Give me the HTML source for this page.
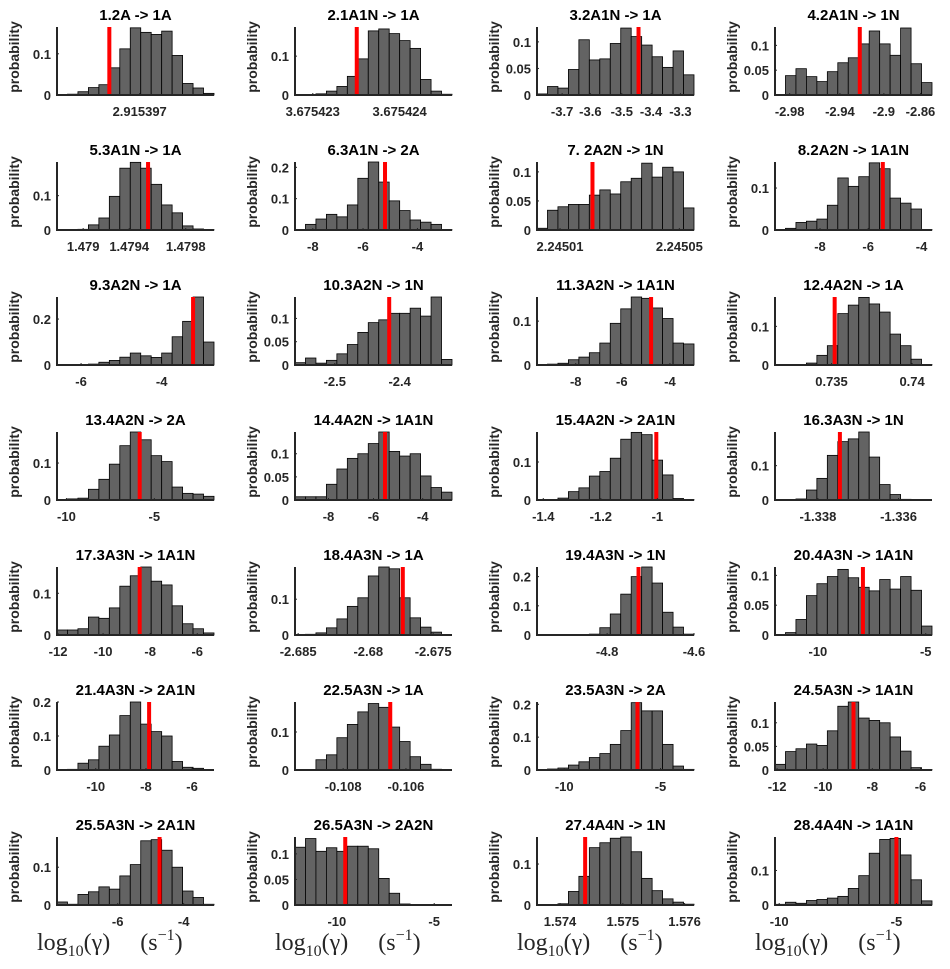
<!DOCTYPE html>
<html><head><meta charset="utf-8"><style>
body{margin:0;background:#fff;}
svg{display:block;font-family:"Liberation Sans",Arial,sans-serif;}
.tt{font-weight:bold;font-size:15px;fill:#000;text-anchor:middle;}
.tk{font-weight:bold;font-size:13px;fill:#262626;}
.yl{font-weight:bold;font-size:14px;fill:#262626;text-anchor:middle;}
.xl{font-family:"Liberation Serif",serif;font-size:24px;fill:#262626;}
</style></head><body>
<svg id="fig" width="950" height="969" viewBox="0 0 950 969"></svg>
<script>
const titles=["1.2A -> 1A","2.1A1N -> 1A","3.2A1N -> 1A","4.2A1N -> 1N","5.3A1N -> 1A","6.3A1N -> 2A","7. 2A2N -> 1N","8.2A2N -> 1A1N","9.3A2N -> 1A","10.3A2N -> 1N","11.3A2N -> 1A1N","12.4A2N -> 1A","13.4A2N -> 2A","14.4A2N -> 1A1N","15.4A2N -> 2A1N","16.3A3N -> 1N","17.3A3N -> 1A1N","18.4A3N -> 1A","19.4A3N -> 1N","20.4A3N -> 1A1N","21.4A3N -> 2A1N","22.5A3N -> 1A","23.5A3N -> 2A","24.5A3N -> 1A1N","25.5A3N -> 2A1N","26.5A3N -> 2A2N","27.4A4N -> 1N","28.4A4N -> 1A1N"];
const binValues=[
[0,0.002,0.008,0.018,0.025,0.066,0.112,0.163,0.152,0.147,0.155,0.096,0.028,0.017,0.004],
[0,0.001,0.003,0.01,0.022,0.048,0.093,0.165,0.17,0.158,0.14,0.12,0.04,0.01,0.002],
[0.002,0.016,0.013,0.048,0.104,0.066,0.068,0.097,0.126,0.11,0.094,0.072,0.052,0.083,0.038],
[0,0.039,0.053,0.037,0.027,0.047,0.065,0.075,0.103,0.129,0.103,0.08,0.135,0.063,0.025],
[0.001,0.001,0.002,0.015,0.035,0.098,0.18,0.197,0.18,0.133,0.073,0.05,0.012,0.003,0.001],
[0,0.018,0.035,0.05,0.042,0.08,0.165,0.217,0.153,0.093,0.062,0.032,0.025,0.018,0.001],
[0.003,0.034,0.04,0.044,0.044,0.06,0.069,0.062,0.083,0.089,0.115,0.091,0.108,0.1,0.038],
[0,0.004,0.018,0.021,0.026,0.059,0.124,0.104,0.127,0.16,0.146,0.076,0.064,0.05,0.001],
[0,0.001,0.002,0.004,0.012,0.02,0.034,0.052,0.04,0.033,0.052,0.123,0.19,0.296,0.1],
[0.005,0.015,0.004,0.01,0.024,0.044,0.07,0.091,0.097,0.111,0.111,0.122,0.105,0.146,0.012],
[0,0.002,0.004,0.012,0.018,0.028,0.05,0.095,0.128,0.155,0.152,0.13,0.106,0.05,0.048],
[0,0,0,0.005,0.025,0.05,0.133,0.155,0.175,0.158,0.137,0.08,0.05,0.015,0.001],
[0.001,0.003,0.005,0.029,0.056,0.097,0.147,0.184,0.163,0.12,0.104,0.035,0.018,0.016,0.01],
[0.007,0.007,0.007,0.034,0.067,0.09,0.1,0.122,0.147,0.105,0.095,0.1,0.052,0.027,0.017],
[0.001,0.001,0.005,0.022,0.032,0.063,0.075,0.11,0.16,0.178,0.172,0.105,0.066,0.004,0.001],
[0,0.001,0.003,0.029,0.063,0.13,0.17,0.178,0.198,0.125,0.045,0.016,0.002,0,0],
[0.012,0.012,0.015,0.043,0.04,0.065,0.117,0.142,0.163,0.129,0.12,0.07,0.027,0.015,0.005],
[0.001,0.002,0.006,0.02,0.045,0.08,0.104,0.165,0.19,0.185,0.104,0.048,0.022,0.008,0],
[0.001,0.001,0.001,0.001,0.001,0.003,0.025,0.072,0.14,0.2,0.233,0.178,0.078,0.027,0.003],
[0,0.004,0.026,0.066,0.086,0.098,0.11,0.096,0.08,0.074,0.093,0.077,0.098,0.075,0.015],
[0,0.002,0.02,0.03,0.07,0.103,0.16,0.2,0.135,0.113,0.1,0.025,0.008,0.005,0],
[0,0.001,0.027,0.04,0.085,0.12,0.153,0.175,0.165,0.113,0.075,0.035,0.015,0.002,0],
[0.001,0.003,0.006,0.015,0.025,0.038,0.05,0.078,0.12,0.205,0.18,0.18,0.078,0.012,0.002],
[0.012,0.039,0.045,0.055,0.052,0.083,0.135,0.144,0.11,0.105,0.1,0.07,0.04,0.005,0.001],
[0.008,0.002,0.028,0.035,0.048,0.042,0.077,0.107,0.17,0.173,0.145,0.1,0.037,0.02,0.002],
[0.113,0.13,0.105,0.112,0.105,0.115,0.115,0.11,0.052,0.023,0.002,0.001,0,0.001,0],
[0,0.001,0.003,0.033,0.07,0.14,0.152,0.163,0.166,0.13,0.065,0.035,0.015,0.007,0.002],
[0.002,0.008,0.005,0.013,0.016,0.02,0.025,0.048,0.085,0.15,0.19,0.193,0.145,0.073,0.012]];
const yMax=[0.165,0.175,0.128,0.137,0.198,0.217,0.117,0.162,0.296,0.146,0.155,0.176,0.184,0.147,0.179,0.198,0.163,0.19,0.233,0.114,0.2,0.179,0.207,0.144,0.18,0.133,0.166,0.197];
const yTicks=[[0,0.1],[0,0.1],[0,0.05,0.1],[0,0.05,0.1],[0,0.1],[0,0.1,0.2],[0,0.05,0.1],[0,0.1],[0,0.2],[0,0.05,0.1],[0,0.1],[0,0.1],[0,0.1],[0,0.05,0.1],[0,0.1],[0,0.1],[0,0.1],[0,0.1],[0,0.1,0.2],[0,0.05,0.1],[0,0.1,0.2],[0,0.1],[0,0.1,0.2],[0,0.05,0.1],[0,0.1],[0,0.05,0.1],[0,0.1],[0,0.1]];
const xTickPos=[[7.9],[1.7,10.0],[2.4,5.1,8.1,10.9,13.7],[1.4,6.2,10.4,13.9],[2.5,6.9,12.3],[1.7,6.5,11.7],[2.2,13.6],[4.3,8.9,14.0],[2.3,10.0],[3.8,10.0],[3.7,8.1,12.7],[5.4,13.1],[0.9,9.3],[3.2,7.5,12.2],[0.6,6.1,11.5],[4.1,11.8],[0.1,4.4,8.9,13.4],[0.3,7.0,13.2],[6.7,15],[4.1,14.4],[3.7,8.5,12.9],[4.6,10.6],[2.6,11.8],[0.2,4.6,9.3,13.9],[5.8,12.1],[4.0,13.3],[2.2,8.2,14.1],[0.4,11.6]];
const xTickLabels=[["2.915397"],["3.675423","3.675424"],["-3.7","-3.6","-3.5","-3.4","-3.3"],["-2.98","-2.94","-2.9","-2.86"],["1.479","1.4794","1.4798"],["-8","-6","-4"],["2.24501","2.24505"],["-8","-6","-4"],["-6","-4"],["-2.5","-2.4"],["-8","-6","-4"],["0.735","0.74"],["-10","-5"],["-8","-6","-4"],["-1.4","-1.2","-1"],["-1.338","-1.336"],["-12","-10","-8","-6"],["-2.685","-2.68","-2.675"],["-4.8","-4.6"],["-10","-5"],["-10","-8","-6"],["-0.108","-0.106"],["-10","-5"],["-12","-10","-8","-6"],["-6","-4"],["-10","-5"],["1.574","1.575","1.576"],["-10","-5"]];
const redPos=[5.0,5.9,9.7,8.1,8.7,8.6,5.3,10.3,13.0,9.0,10.9,5.7,7.9,8.6,11.4,6.2,7.9,10.3,9.7,8.4,8.8,9.1,9.6,7.5,9.8,4.8,4.6,11.6];

const NS='http://www.w3.org/2000/svg';
const svg=document.getElementById('fig');
const colLeft=[57,295,537,775], W=157, rowTop0=27, rowStep=135, H=68, NB=15;
function mk(tag,attrs,parent){const e=document.createElementNS(NS,tag);for(const k in attrs)e.setAttribute(k,attrs[k]);(parent||svg).appendChild(e);return e;}
titles.forEach((t,i)=>{
  const c=i%4,r=Math.floor(i/4);
  const L=colLeft[c],T=rowTop0+r*rowStep,B=T+H;
  const xs=v=>L+v/NB*W;
  const ys=v=>B-v/yMax[i]*H;
  const g=mk('g',{});
  
  
  binValues[i].forEach((v,k)=>{
    if(v<=0)return;
    const b=mk('rect',{x:xs(k),y:ys(v),width:xs(k+1)-xs(k),height:B-ys(v),fill:'#636363',stroke:'#000','stroke-width':0.8},g);
    
    
  });
  const rl=mk('line',{x1:xs(redPos[i]),x2:xs(redPos[i]),y1:T,y2:B,stroke:'#ff0000','stroke-width':4},g);
  
  
  const ax=mk('path',{d:`M${L},${T} V${B} H${L+W}`,fill:'none',stroke:'#262626','stroke-width':2},g);
  
  
  yTicks[i].forEach(v=>{
    mk('line',{x1:L,x2:L+2,y1:ys(v),y2:ys(v),stroke:'#262626','stroke-width':1},g);
    const tx=mk('text',{x:L-6,y:ys(v)+5,'text-anchor':'end',class:'tk'},g);
    tx.textContent=String(v);
    
    
  });
  xTickPos[i].forEach((p,k)=>{
    mk('line',{x1:xs(p),x2:xs(p),y1:B,y2:B-2,stroke:'#262626','stroke-width':1},g);
    const tx=mk('text',{x:xs(p),y:B+21,'text-anchor':'middle',class:'tk'},g);
    tx.textContent=xTickLabels[i][k];
    
    
  });
  const tt=mk('text',{x:L+W/2,y:T-7,class:'tt'},g);
  tt.textContent=t;
  
  
  const yl=mk('text',{x:0,y:0,class:'yl',transform:`translate(${L-38},${T+H/2-4}) rotate(-90)`},g);
  yl.textContent='probability';
  
  
  if(r===6){
    const xl=mk('text',{x:L-20,y:950,class:'xl'},g);
    
    
    xl.innerHTML='log<tspan font-size="16" dy="6">10</tspan><tspan dy="-6">(γ)</tspan><tspan dx="30">(s</tspan><tspan font-size="16" dy="-10">−1</tspan><tspan dy="10">)</tspan>';
  }
});
</script>
</body></html>
